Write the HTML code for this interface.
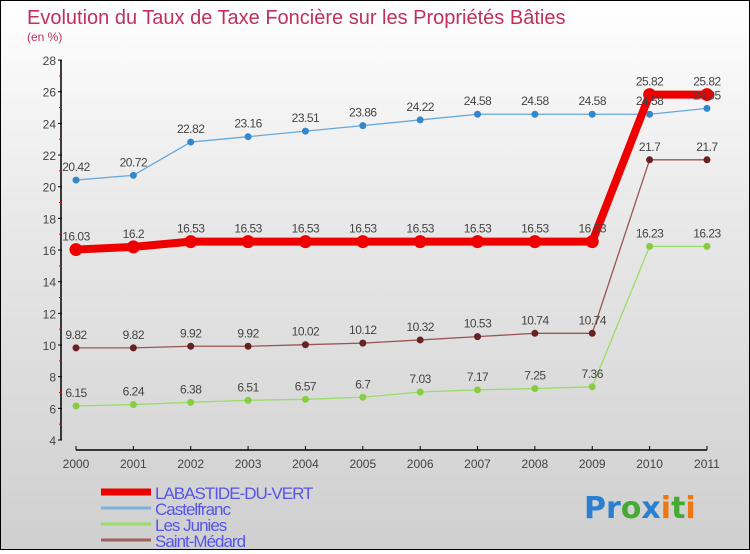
<!DOCTYPE html>
<html><head><meta charset="utf-8"><style>
html,body{margin:0;padding:0}
body{width:750px;height:550px;overflow:hidden;font-family:"Liberation Sans",sans-serif}
#wrap{position:relative;width:748px;height:548px;border:1px solid #000;background:linear-gradient(#ffffff,#e8e8e8 40%,#cfcfcf)}
</style></head><body>
<div id="wrap">
<svg id="chart" width="748" height="548"></svg>
</div>
<script>
const years = ["2000","2001","2002","2003","2004","2005","2006","2007","2008","2009","2010","2011"];
const labastide = [16.03,16.2,16.53,16.53,16.53,16.53,16.53,16.53,16.53,16.53,25.82,25.82];
const castelfranc = [20.42,20.72,22.82,23.16,23.51,23.86,24.22,24.58,24.58,24.58,24.58,24.95];
const lesJunies = [6.15,6.24,6.38,6.51,6.57,6.7,7.03,7.17,7.25,7.36,16.23,16.23];
const saintMedard = [9.82,9.82,9.92,9.92,10.02,10.12,10.32,10.53,10.74,10.74,21.7,21.7];
const yTicks = [4,6,8,10,12,14,16,18,20,22,24,26,28];
const seriesNames = ["LABASTIDE-DU-VERT","Castelfranc","Les Junies","Saint-Médard"];

const NS="http://www.w3.org/2000/svg";
const svg=document.getElementById('chart');
function mk(t,a,txt){const e=document.createElementNS(NS,t);for(const k in a)e.setAttribute(k,a[k]);if(txt!==undefined)e.textContent=txt;svg.appendChild(e);return e;}
const X=i=>75+i*57.36;
const Y=v=>439-(v-4)*15.83;

let t=mk('text',{x:26,y:23,'font-size':20,fill:'#c0305a'},'Evolution du Taux de Taxe Foncière sur les Propriétés Bâties');


t=mk('text',{x:26,y:40,'font-size':12,fill:'#c0305a'},'(en %)');



// y axis
let l=mk('line',{x1:60,y1:Y(28),x2:60,y2:Y(4),stroke:'#000','stroke-width':1.5});


yTicks.forEach((v,i)=>{
  mk('line',{x1:57,y1:Y(v),x2:61,y2:Y(v),stroke:'#000'});
  if(i<yTicks.length-1) mk('line',{x1:58,y1:Y(v+1),x2:61,y2:Y(v+1),stroke:'#e00'});
  const tx=mk('text',{x:55,y:Y(v)+5,'font-size':12,fill:'#444','text-anchor':'end'},String(v));
  
  
});
// x axis
l=mk('line',{x1:X(0),y1:449,x2:X(11),y2:449,stroke:'#000','stroke-width':1.5});


years.forEach((y,i)=>{
  mk('line',{x1:X(i),y1:445,x2:X(i),y2:449,stroke:'#000'});
  const tx=mk('text',{x:X(i),y:467,'font-size':12,fill:'#444','text-anchor':'middle'},y);
  
  
});

function series(vals,color,w,r,dot,name){
  const p=mk('polyline',{points:vals.map((v,i)=>X(i)+','+Y(v)).join(' '),fill:'none',stroke:color,'stroke-width':w,'stroke-linejoin':'round'});
  
  
  vals.forEach((v,i)=>{
    const c=mk('circle',{cx:X(i),cy:Y(v),r:r,fill:dot});
    
    
  });
}
function labels(vals,name){
  vals.forEach((v,i)=>{
    const tx=mk('text',{x:X(i),y:Y(v)-9,'font-size':12,fill:'#444','text-anchor':'middle','letter-spacing':'-0.5'},String(v));
    
    
  });
}
series(lesJunies,'#99dd66',1.3,3.5,'#88cc44','les-junies');
series(saintMedard,'#995555',1.3,3.5,'#662222','saint-medard');
series(castelfranc,'#66a8dd',1.3,3.5,'#3388cc','castelfranc');
series(labastide,'#ee0000',8,6.5,'#ee0000','labastide');
labels(lesJunies,'les-junies');labels(saintMedard,'saint-medard');labels(castelfranc,'castelfranc');labels(labastide,'labastide');

// legend
const lc=['#ee0000','#7fb0dd','#99dd66','#a06060'];const lw=[7,3,3,3];
seriesNames.forEach((n,i)=>{
  const y=491+i*16;
  const ln=mk('line',{x1:100,y1:y,x2:150,y2:y,stroke:lc[i],'stroke-width':lw[i]});
  
  
  const tx=mk('text',{x:154,y:y+7,'font-size':17,fill:'#5555ee','letter-spacing':'-1'},n);
  
  
});
// logo
const g=mk('text',{x:583,y:517,'font-size':30,'font-family':'"DejaVu Sans",sans-serif','font-weight':'bold'});


[['P','#2a7fd0'],['r','#2a7fd0'],['o','#44aa33'],['x','#2a7fd0'],['i','#ee7711'],['t','#44aa33'],['i','#ee7711']].forEach(([c,f])=>{const s=document.createElementNS(NS,'tspan');s.setAttribute('fill',f);s.textContent=c;g.appendChild(s);});
</script>
</body></html>
